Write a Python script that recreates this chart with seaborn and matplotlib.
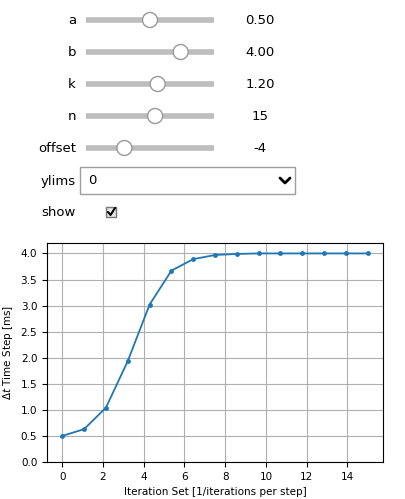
import numpy as np
import pandas as pd
import matplotlib
matplotlib.use("Agg")
import matplotlib.pyplot as plt
from matplotlib.patches import Circle, Rectangle
import seaborn as sns

# widget state
slider_names = ["a", "b", "k", "n", "offset"]
slider_values = ["0.50", "4.00", "1.20", "15", "-4"]
slider_fraction = [0.50, 0.74, 0.56, 0.54, 0.30]
ylims_value = "0"

# plotted series
iteration_set = [0.0, 1.07, 2.14, 3.21, 4.29, 5.36, 6.43, 7.5, 8.57, 9.64,
                 10.71, 11.79, 12.86, 13.93, 15.0]
time_step = [0.50, 0.63, 1.04, 1.93, 3.02, 3.67, 3.89, 3.97, 3.99, 4.00,
             4.00, 4.00, 4.00, 4.00, 4.00]

sns.set_style("ticks")
plt.rcParams['font.family'] = ['DejaVu Sans']
plt.rcParams.update({"text.color": "black", "axes.labelcolor": "black",
                     "xtick.color": "black", "ytick.color": "black"})

W, H = 406, 499
fig = plt.figure(figsize=(W / 100, H / 100), dpi=100)

# widget area drawn in pixel coords
ui = fig.add_axes([0, 0, 1, 1])
ui.set_xlim(0, W)
ui.set_ylim(H, 0)
ui.axis("off")

track_x0, track_x1 = 86, 214
for i, (name, val, frac) in enumerate(zip(slider_names, slider_values, slider_fraction)):
    y = 20 + 32 * i
    ui.text(76, y, name, ha="right", va="center", fontsize=9.5)
    ui.plot([track_x0, track_x1], [y, y], color="#bdbdbd", lw=4, solid_capstyle="butt")
    kx = track_x0 + frac * (track_x1 - track_x0)
    ui.add_patch(Circle((kx, y), 7.5, facecolor="white", edgecolor="#999999", lw=1, zorder=3))
    ui.text(260, y, val, ha="center", va="center", fontsize=9.5)

ui.text(76, 181, "ylims", ha="right", va="center", fontsize=9.5)
ui.add_patch(Rectangle((80, 167), 215, 27, facecolor="white", edgecolor="#9e9e9e", lw=1))
ui.text(88, 181, ylims_value, ha="left", va="center", fontsize=9.5)
ui.plot([280, 285, 290], [178, 183, 178], color="black", lw=2)

ui.text(76, 212, "show", ha="right", va="center", fontsize=9.5)
ui.add_patch(Rectangle((106, 207), 10, 10, facecolor="#e8e8e8", edgecolor="#777777", lw=1))
ui.plot([108, 110.5, 115], [212, 215, 208], color="black", lw=1.5)

# the chart itself
ax = fig.add_axes([47 / W, 37 / H, 336 / W, 219 / H])
df = pd.DataFrame({"x": iteration_set, "y": time_step})
sns.lineplot(data=df, x="x", y="y", ax=ax, marker="o", markersize=3.5,
             markeredgewidth=0, color="#1f77b4", lw=1.3)
ax.set_ylim(0, 4.2)
ax.set_xlim(-0.75, 15.75)
ax.set_xticks(range(0, 16, 2))
ax.set_yticks(np.arange(0, 4.01, 0.5))
ax.grid(True, color="#b0b0b0", lw=0.8)
ax.tick_params(labelsize=7.5)
ax.set_xlabel("Iteration Set [1/iterations per step]", fontsize=7.5)
ax.set_ylabel(r"$\Delta t$ Time Step [ms]", fontsize=7.5)
for s in ax.spines.values():
    s.set_visible(True)
    s.set_color("black")
    s.set_linewidth(0.8)

fig.savefig("out.png", dpi=100)
